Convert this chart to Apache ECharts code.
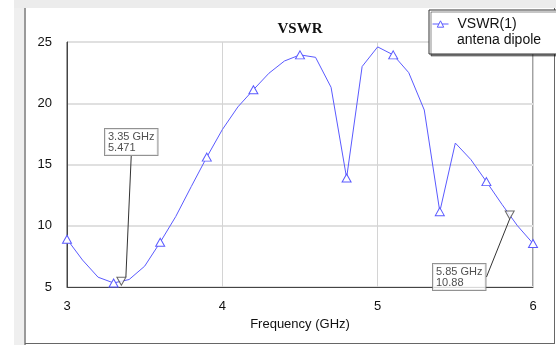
<!DOCTYPE html>
<html>
<head>
<meta charset="utf-8">
<script src="https://cdn.jsdelivr.net/npm/echarts@6/dist/echarts.min.js"></script>
<style>
html,body{margin:0;padding:0;background:#fff;}
#c{width:556px;height:345px;}
</style>
</head>
<body>
<div id="c"></div>
<script>
// ---- data ----
const freqGHz = [3.0,3.1,3.2,3.3,3.4,3.5,3.6,3.7,3.8,3.9,4.0,4.1,4.2,4.3,4.4,4.5,4.6,4.7,4.8,4.9,5.0,5.1,5.2,5.3,5.4,5.5,5.6,5.7,5.8,5.9,6.0];
const vswr    = [8.9,7.2,5.8,5.33,5.61,6.7,8.65,10.75,13.2,15.6,17.85,19.7,21.1,22.45,23.45,23.95,23.75,21.3,13.9,23.0,24.6,23.95,22.5,19.45,11.15,16.75,15.4,13.6,11.75,10.0,8.55];
const markerFreq = [3.35, 5.85];
const markerVal  = [5.471, 10.88];
const xTicks = [3, 4, 5, 6];
const yTicks = [5, 10, 15, 20, 25];
const seriesName = 'VSWR(1)';
const seriesSub = 'antena dipole';
const titleText = 'VSWR';
const xName = 'Frequency (GHz)';

const chart = echarts.init(document.getElementById('c'), null, {renderer:'canvas'});
const lineColor = '#5a5aff';
const font = "'Liberation Sans', Arial, sans-serif";

const lineData = freqGHz.map((f, i) => ({
  value: [f, vswr[i]],
  symbol: i % 3 === 0 ? 'triangle' : 'none'
}));
const markData = markerFreq.map((f, i) => [f, markerVal[i]]);
const labelPos = [[105, 129], [433, 264]];

chart.setOption({
  animation: false,
  backgroundColor: '#fff',
  title: {
    text: titleText, left: 300, top: 22, padding: 0, textAlign: 'center',
    textStyle: {fontFamily: "'Liberation Serif', 'Times New Roman', serif", fontWeight: 'bold', fontSize: 15, color: '#111'}
  },
  legend: {
    left: 429, top: 10, orient: 'vertical',
    data: [seriesName],
    padding: [7, 41, 23, 3],
    itemWidth: 16, itemHeight: 8,
    itemStyle: {color: '#fff', borderColor: lineColor, borderWidth: 1},
    lineStyle: {color: lineColor, width: 1},
    backgroundColor: '#fff', borderColor: '#333', borderWidth: 1,
    shadowColor: 'rgba(0,0,0,0.45)', shadowOffsetX: 2, shadowOffsetY: 2, shadowBlur: 0,
    textStyle: {fontFamily: font, fontSize: 14, color: '#111', padding: [0, 0, 0, 4]}
  },
  grid: {left: 67, right: 23, top: 42, bottom: 58, show: true, borderColor: '#444', borderWidth: 1, backgroundColor: 'transparent'},
  xAxis: {
    type: 'value', min: xTicks[0], max: xTicks[xTicks.length - 1], interval: 1,
    name: xName, nameLocation: 'middle', nameGap: 31,
    nameTextStyle: {fontFamily: font, fontSize: 13, color: '#111'},
    axisLine: {show: true, lineStyle: {color: '#444'}},
    axisTick: {show: false},
    axisLabel: {fontFamily: font, fontSize: 13, color: '#111', margin: 13},
    splitLine: {show: true, lineStyle: {color: '#d4d4d4', width: 1}}
  },
  yAxis: {
    type: 'value', min: yTicks[0], max: yTicks[yTicks.length - 1], interval: 5,
    axisLine: {show: true, lineStyle: {color: '#444'}},
    axisTick: {show: false},
    axisLabel: {fontFamily: font, fontSize: 13, color: '#111', margin: 15},
    splitLine: {show: true, lineStyle: {color: '#e0e0e0', width: 2}}
  },
  series: [
    {
      name: seriesName, type: 'line', data: lineData,
      symbol: 'triangle', symbolSize: [9, 8], showSymbol: true, showAllSymbol: true,
      lineStyle: {color: lineColor, width: 1},
      itemStyle: {color: '#fff', borderColor: lineColor, borderWidth: 1},
      z: 3
    },
    {
      name: 'markers', type: 'scatter', data: markData,
      symbol: 'triangle', symbolRotate: 180, symbolSize: [9, 8],
      itemStyle: {color: '#fff', borderColor: '#444', borderWidth: 1},
      label: {
        show: true,
        formatter: p => p.value[0] + ' GHz\n' + p.value[1],
        fontFamily: font, fontSize: 11, lineHeight: 11, color: '#222',
        backgroundColor: '#fff', borderColor: '#777', borderWidth: 1,
        padding: [2, 3, 2, 3]
      },
      labelLayout: p => ({x: labelPos[p.dataIndex][0], y: labelPos[p.dataIndex][1], align: 'left', verticalAlign: 'top'}),
      labelLine: {show: true, lineStyle: {color: '#333', width: 1}},
      z: 4
    }
  ],
  graphic: [
    {type: 'rect', shape: {x: 14, y: 0, width: 542, height: 8}, style: {fill: '#ececec'}, z: 0, silent: true},
    {type: 'rect', shape: {x: 14, y: 8, width: 11, height: 337}, style: {fill: '#efefef'}, z: 0, silent: true},
    {type: 'line', shape: {x1: 25, y1: 8, x2: 25, y2: 345}, style: {stroke: '#9a9a9a', lineWidth: 2}, z: 0, silent: true},
    {type: 'line', shape: {x1: 25, y1: 343.5, x2: 555, y2: 343.5}, style: {stroke: '#666', lineWidth: 1}, z: 0, silent: true},
    {type: 'line', shape: {x1: 554.5, y1: 8, x2: 554.5, y2: 344}, style: {stroke: '#666', lineWidth: 1}, z: 0, silent: true},
    {type: 'text', left: 457, top: 33, z: 100, silent: true,
     style: {text: seriesSub, font: "14px 'Liberation Sans', Arial, sans-serif", fill: '#111'}}
  ]
});
</script>
</body>
</html>
